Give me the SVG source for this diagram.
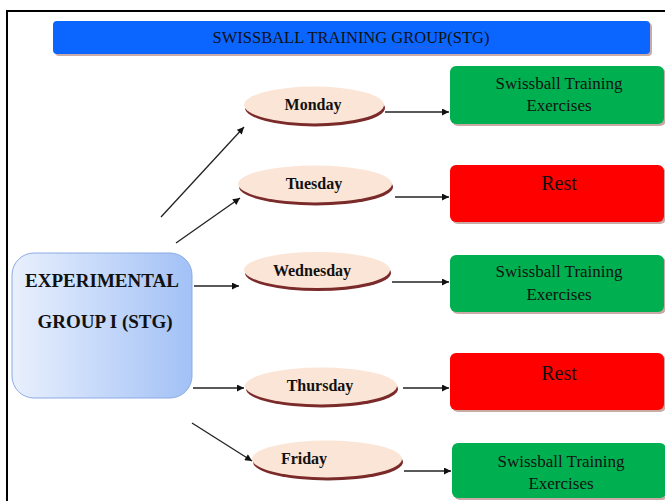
<svg xmlns="http://www.w3.org/2000/svg" width="665" height="501" viewBox="0 0 665 501">
<style>
.day{fill:#fbe5d6}
.dsh{fill:#7b2a2a}
.dt{font-family:"Liberation Serif","Times New Roman",serif;font-weight:bold;font-size:16px;fill:#111;text-anchor:middle}
.bt{font-family:"Liberation Serif","Times New Roman",serif;font-size:17px;fill:#111;text-anchor:middle}
.rt{font-family:"Liberation Serif","Times New Roman",serif;font-size:20px;fill:#111;text-anchor:middle}
.green{fill:#00b050}
.red{fill:#ff0000}
.sh{fill:#c9aaa6}
.con line{stroke:#222;stroke-width:1.3;marker-end:url(#ah)}
</style>
<defs>
<marker id="ah" viewBox="0 0 10 10" refX="10" refY="5" markerWidth="8" markerHeight="7" markerUnits="userSpaceOnUse" orient="auto">
<path d="M0,0 L10,5 L0,10 z" fill="#111"/>
</marker>
<linearGradient id="gg" x1="0" y1="0" x2="1" y2="0">
<stop offset="0" stop-color="#e9f0fd"/>
<stop offset="1" stop-color="#a2c1f6"/>
</linearGradient>
</defs>
<rect width="665" height="501" fill="#fff"/>
<path d="M7,501 V11 H665" fill="none" stroke="#000" stroke-width="2"/>

<g id="title">
<rect x="55" y="23" width="597" height="33" rx="4" fill="#c9aaa6"/>
<rect x="53" y="21" width="597" height="33" rx="4" fill="#0a66ff"/>
<text x="351" y="43" font-family="Liberation Serif,Times New Roman,serif" font-size="16.5" fill="#111" text-anchor="middle">SWISSBALL TRAINING GROUP(STG)</text>
<path d="M393,47.5 q1.5,-1.5 3,0 t3,0 t3,0 t3,0 t3,0 t3,0 t3,0 t3,0 t3,0 t3,0 t3,0 t3,0 t3,0 t3,0 t3,0 t3,0 t3,0 t3,0 t3,0" fill="none" stroke="#3b5bd8" stroke-width="0.8"/>
</g>

<g id="group1">
<rect x="12" y="253" width="180" height="145" rx="22" fill="url(#gg)" stroke="#8aaae4" stroke-width="1"/>
<text x="102" y="287" font-family="Liberation Serif,Times New Roman,serif" font-weight="bold" font-size="19" fill="#111" text-anchor="middle">EXPERIMENTAL</text>
<text x="105" y="328" font-family="Liberation Serif,Times New Roman,serif" font-weight="bold" font-size="19" fill="#111" text-anchor="middle">GROUP I (STG)</text>
</g>

<g id="monday">
<ellipse class="dsh" cx="315" cy="108" rx="70" ry="18.5"/>
<ellipse class="day" cx="314" cy="105" rx="70" ry="18.5"/>
<text class="dt" x="313" y="110">Monday</text>
</g>
<g id="tuesday">
<ellipse class="dsh" cx="316" cy="187" rx="77" ry="18.5"/>
<ellipse class="day" cx="315" cy="184" rx="77" ry="18.5"/>
<text class="dt" x="314" y="189">Tuesday</text>
</g>
<g id="wednesday">
<ellipse class="dsh" cx="318" cy="273" rx="73" ry="18"/>
<ellipse class="day" cx="317" cy="270" rx="73" ry="18"/>
<text class="dt" x="312" y="276">Wednesday</text>
</g>
<g id="thursday">
<ellipse class="dsh" cx="322" cy="389" rx="76" ry="18.5"/>
<ellipse class="day" cx="321" cy="386" rx="76" ry="18.5"/>
<text class="dt" x="320" y="391">Thursday</text>
</g>
<g id="friday">
<ellipse class="dsh" cx="328" cy="462" rx="75" ry="18.5"/>
<ellipse class="day" cx="327" cy="459" rx="75" ry="18.5"/>
<text class="dt" x="304" y="464">Friday</text>
</g>

<g id="ex1">
<rect class="sh" x="452" y="68" width="214" height="58" rx="6"/>
<rect class="green" x="450" y="66" width="214" height="58" rx="6"/>
<text class="bt" x="559" y="89">Swissball Training</text>
<text class="bt" x="559" y="111">Exercises</text>
</g>
<g id="rest1">
<rect class="sh" x="452" y="167" width="214" height="57" rx="6"/>
<rect class="red" x="450" y="165" width="214" height="57" rx="6"/>
<text class="rt" x="559" y="190">Rest</text>
</g>
<g id="ex2">
<rect class="sh" x="452" y="257" width="214" height="57" rx="6"/>
<rect class="green" x="450" y="255" width="214" height="57" rx="6"/>
<text class="bt" x="559" y="277">Swissball Training</text>
<text class="bt" x="559" y="300">Exercises</text>
</g>
<g id="rest2">
<rect class="sh" x="452" y="355" width="214" height="57" rx="6"/>
<rect class="red" x="450" y="353" width="214" height="57" rx="6"/>
<text class="rt" x="559" y="380">Rest</text>
</g>
<g id="ex3">
<rect class="sh" x="454" y="445" width="214" height="55" rx="6"/>
<rect class="green" x="452" y="443" width="214" height="55" rx="6"/>
<text class="bt" x="561" y="467">Swissball Training</text>
<text class="bt" x="561" y="489">Exercises</text>
</g>

<g id="connectors" class="con">
<line x1="161" y1="217" x2="244" y2="127"/>
<line x1="176" y1="243" x2="240" y2="198"/>
<line x1="194" y1="286" x2="239" y2="286"/>
<line x1="193" y1="388" x2="244" y2="388"/>
<line x1="192" y1="423" x2="252" y2="461"/>
<line x1="385" y1="112" x2="449" y2="112"/>
<line x1="395" y1="197" x2="449" y2="197"/>
<line x1="392" y1="282" x2="449" y2="282"/>
<line x1="403" y1="388" x2="449" y2="388"/>
<line x1="404" y1="471" x2="451" y2="471"/>
</g>
</svg>
